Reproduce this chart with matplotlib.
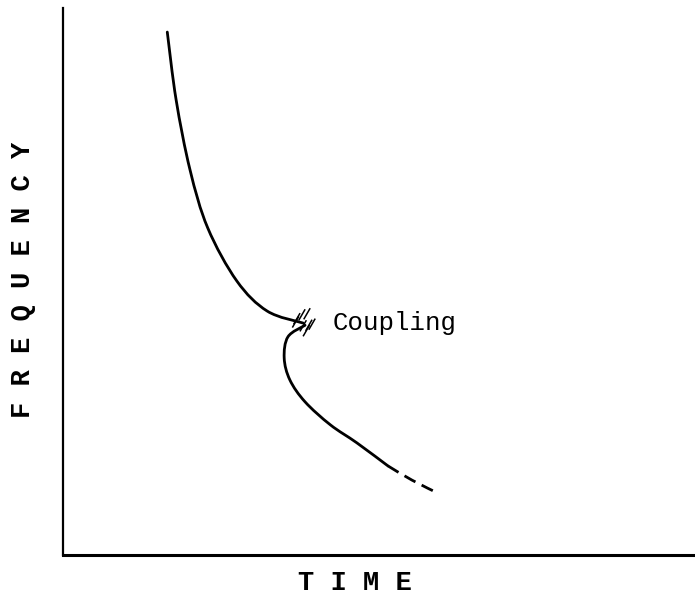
import matplotlib
matplotlib.use("Agg")
import matplotlib.pyplot as plt
from matplotlib.path import Path
from matplotlib.patches import PathPatch
import numpy as np

# Frequency–time trace (arbitrary units, 0–100 on both axes)
upper_time = [16.5, 17.9, 20.1, 22.9, 27.5, 32.3, 38.0]
upper_freq = [95.6, 83.2, 70.4, 59.8, 50.1, 44.6, 42.4]

lower_time = [38.3, 35.6, 35.0, 35.9, 38.3, 42.3, 46.5, 51.4]
lower_freq = [42.0, 39.9, 36.0, 32.0, 28.0, 23.8, 20.5, 16.3]

tail_time = [51.4, 55.2, 59.5]
tail_freq = [16.3, 13.7, 11.2]

# Short strokes marking the coupling region
hatch_time = [37.8, 38.6, 37.0, 38.9, 38.0, 39.4, 38.5, 36.8]
hatch_freq = [43.9, 44.1, 43.2, 42.0, 41.9, 42.2, 41.0, 42.6]


def smooth_path(xs, ys):
    """Cubic Bezier path passing through every given point (Catmull-Rom)."""
    p = np.column_stack([xs, ys]).astype(float)
    ext = np.vstack([p[0], p, p[-1]])
    verts = [p[0]]
    codes = [Path.MOVETO]
    for i in range(1, len(ext) - 2):
        p0, p1, p2, p3 = ext[i - 1], ext[i], ext[i + 1], ext[i + 2]
        verts += [p1 + (p2 - p0) / 6, p2 - (p3 - p1) / 6, p2]
        codes += [Path.CURVE4] * 3
    return Path(verts, codes)


fig = plt.figure(figsize=(6.95, 6.03), dpi=100)
ax = fig.add_axes([63 / 695, 48 / 603, 632 / 695, 547 / 603])
ax.set_xlim(0, 100)
ax.set_ylim(0, 100)

for xs, ys in ((upper_time, upper_freq), (lower_time, lower_freq)):
    ax.add_patch(PathPatch(smooth_path(xs, ys), fill=False, edgecolor="black",
                           lw=2.0, capstyle="round", joinstyle="round"))
ax.add_patch(PathPatch(smooth_path(tail_time, tail_freq), fill=False,
                       edgecolor="black", lw=2.0, linestyle=(0, (4.5, 2.5))))

# little "/" strokes around the coupling point
dx, dy = 0.45, 0.9
for t, f in zip(hatch_time, hatch_freq):
    ax.plot([t - dx, t + dx], [f - dy, f + dy], color="black", lw=1.1)

ax.text(42.6, 42.4, "Coupling", family="Liberation Mono", fontsize=18.5,
        va="center", ha="left")

for side in ("top", "right"):
    ax.spines[side].set_visible(False)
ax.spines["left"].set_linewidth(1.6)
ax.spines["bottom"].set_linewidth(2.2)
ax.set_xticks([])
ax.set_yticks([])

fig.text(355 / 695, 1 - 583 / 603, "T I M E", family="Liberation Mono",
         fontweight="bold", fontsize=19.5, ha="center", va="center")
fig.text(23 / 695, 1 - 280 / 603, "F R E Q U E N C Y", family="Liberation Mono",
         fontweight="bold", fontsize=19.5, ha="center", va="center", rotation=90)

fig.savefig("out.png", dpi=100, facecolor="white")
